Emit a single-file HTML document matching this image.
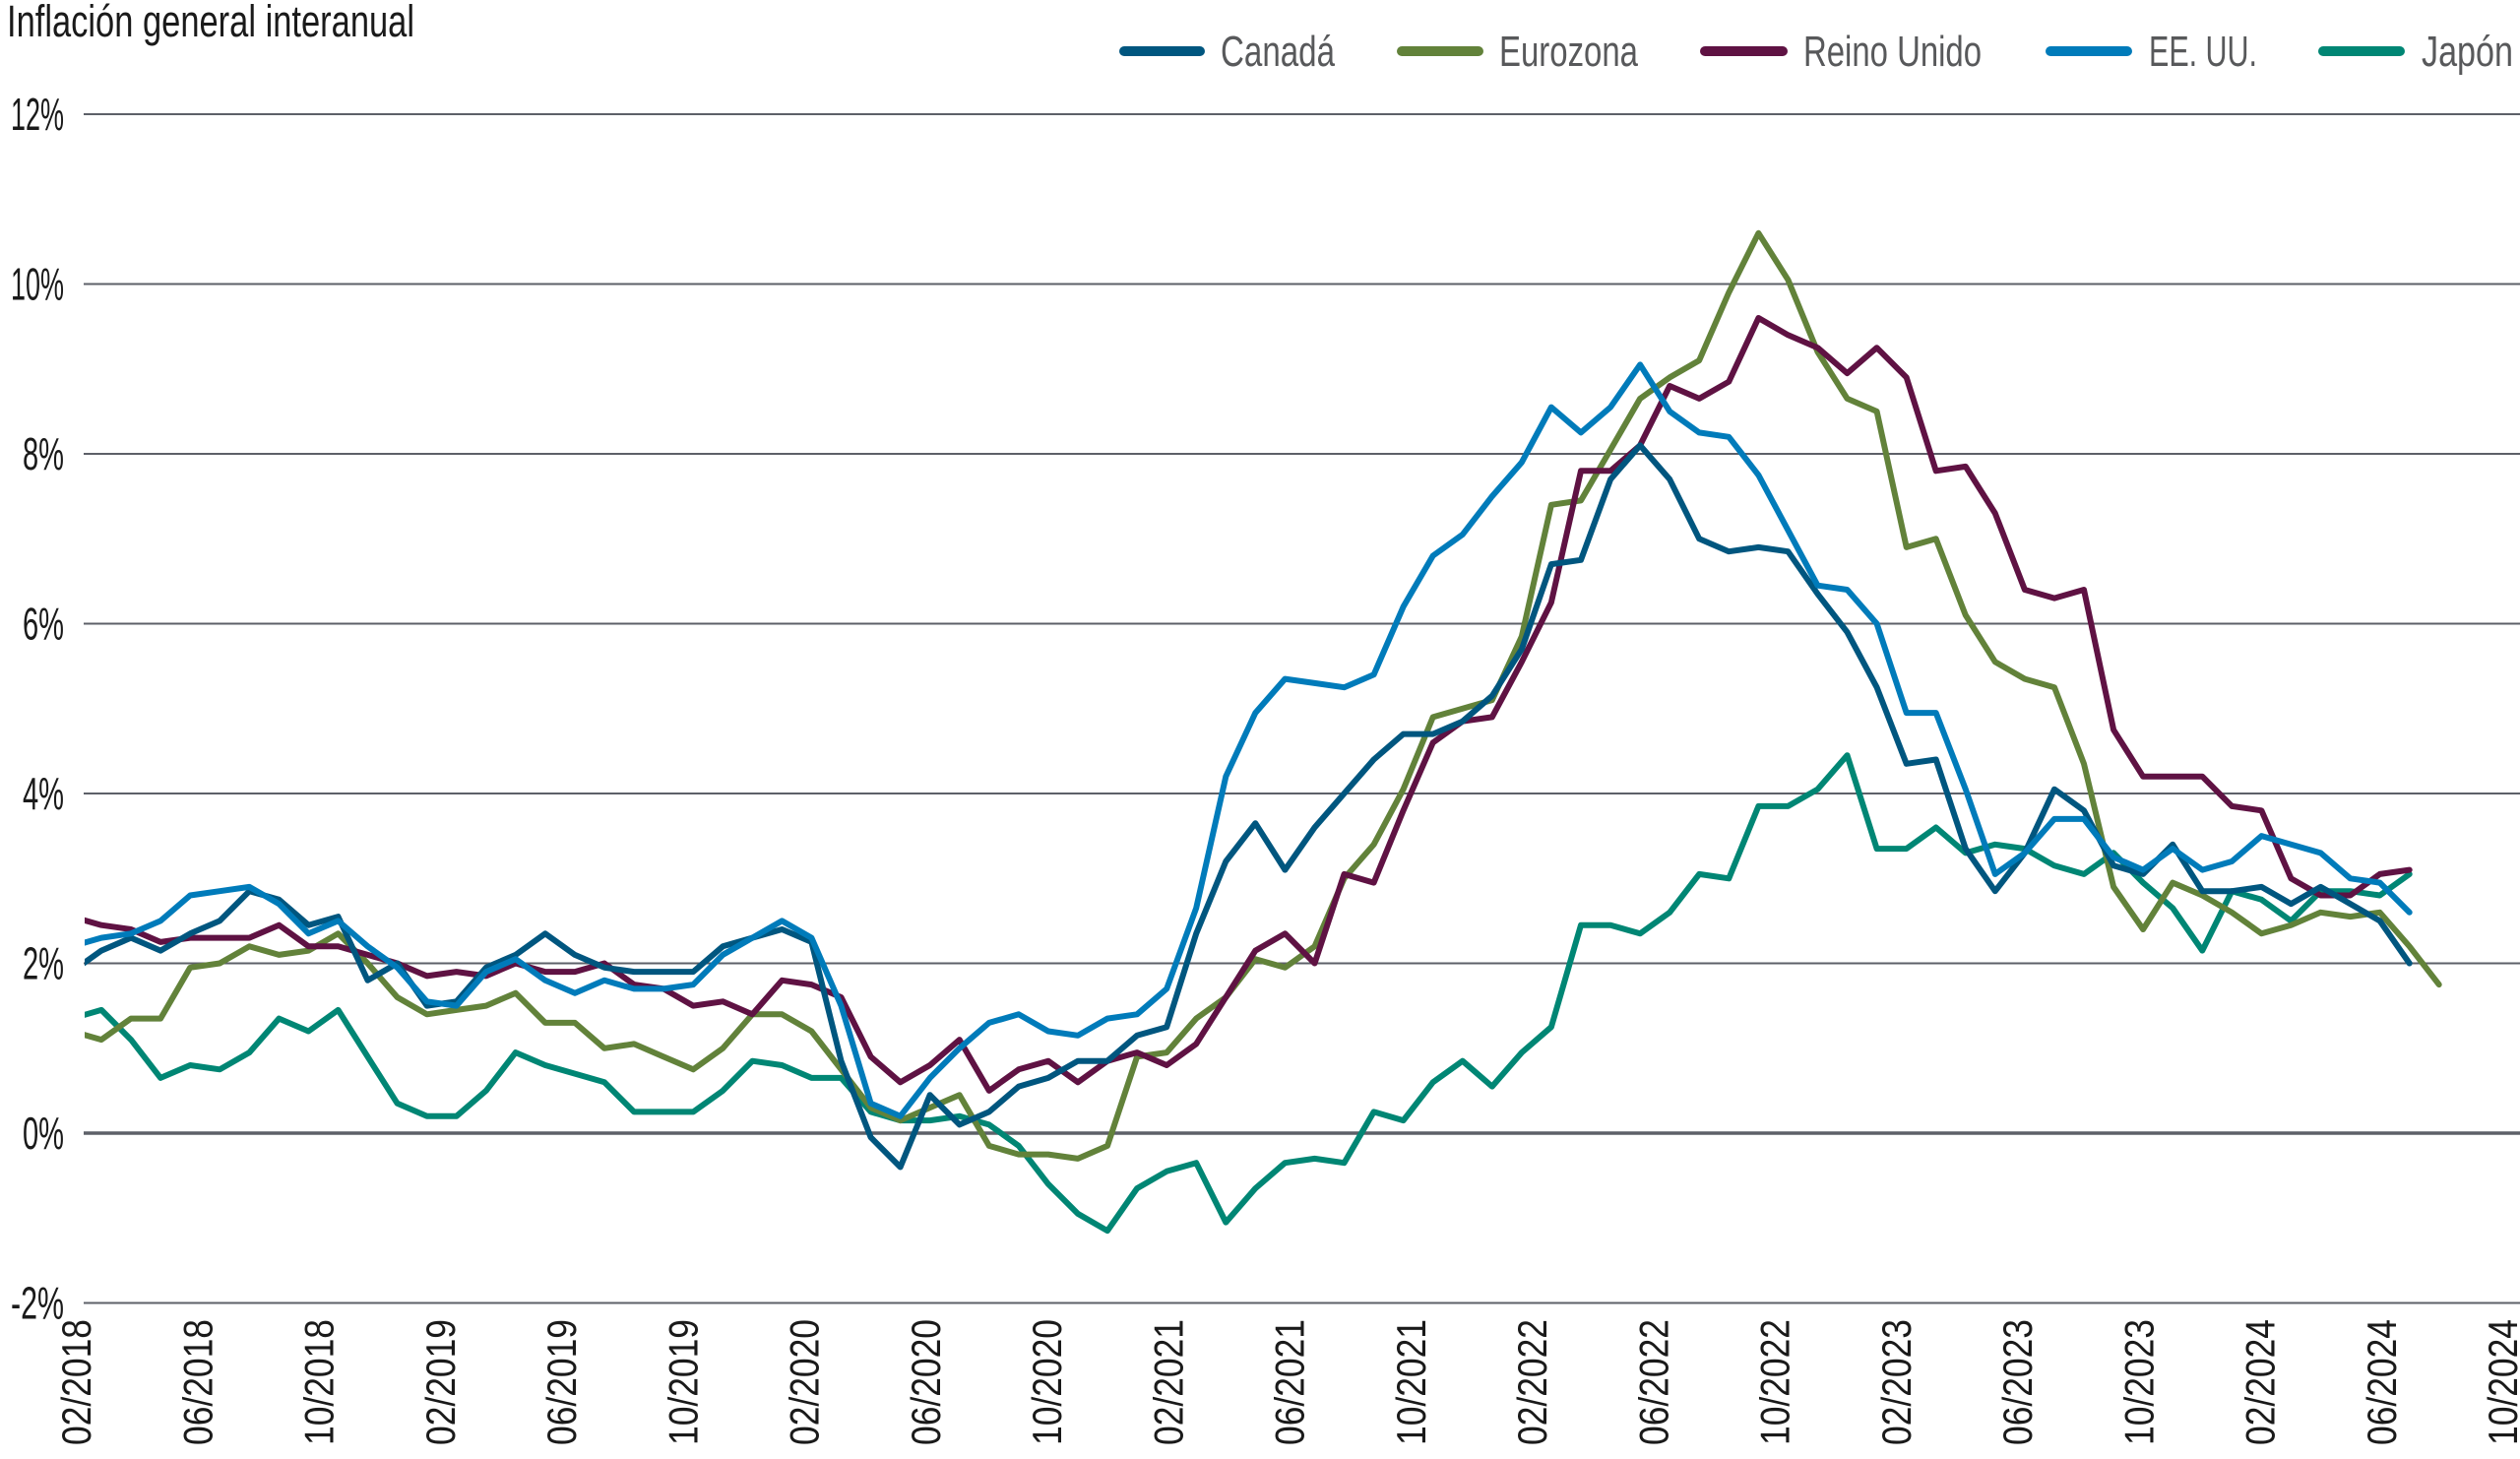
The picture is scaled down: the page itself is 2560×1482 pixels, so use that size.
<!DOCTYPE html>
<html><head><meta charset="utf-8">
<style>
html,body{margin:0;padding:0;background:#fff;}
svg{display:block;}
text{font-family:"Liberation Sans Narrow","Liberation Sans",sans-serif;}
</style></head>
<body>
<svg id="c" width="2560" height="1482" viewBox="0 0 2560 1482" xmlns="http://www.w3.org/2000/svg">
<defs><clipPath id="cp"><rect x="86" y="0" width="2474" height="1482"/></clipPath></defs>
<text x="7" y="37" font-size="45" fill="#1a1a1a" textLength="414" lengthAdjust="spacingAndGlyphs">Inflación general interanual</text>

<g stroke-linecap="round" stroke-width="10">
<line x1="1142" y1="52" x2="1219" y2="52" stroke="#00567f"/>
<line x1="1424" y1="52" x2="1502" y2="52" stroke="#62823a"/>
<line x1="1732" y1="52" x2="1811" y2="52" stroke="#5f1243"/>
<line x1="2083" y1="52" x2="2161" y2="52" stroke="#007bba"/>
<line x1="2360" y1="52" x2="2438" y2="52" stroke="#008674"/>
</g>
<g font-size="44" fill="#58595b">
<text x="1240" y="67" textLength="116" lengthAdjust="spacingAndGlyphs">Canadá</text>
<text x="1523" y="67" textLength="141" lengthAdjust="spacingAndGlyphs">Eurozona</text>
<text x="1832" y="67" textLength="181" lengthAdjust="spacingAndGlyphs">Reino Unido</text>
<text x="2183" y="67" textLength="110" lengthAdjust="spacingAndGlyphs">EE. UU.</text>
<text x="2460" y="67" textLength="93" lengthAdjust="spacingAndGlyphs">Japón</text>
</g>

<g id="grid" stroke="#5d6068" stroke-width="2"></g>
<g id="ylab" font-size="46" fill="#1a1a1a" text-anchor="end"></g>
<g id="xlab" font-size="42" fill="#1a1a1a" text-anchor="end"></g>
<g id="series" fill="none" stroke-width="6" stroke-linejoin="round" stroke-linecap="round" clip-path="url(#cp)"></g>
</svg>
<script>
var NS="http://www.w3.org/2000/svg";
function Y(v){return 1151-86.25*v;}
function X(k){return 103+30.06*k;}
var g=document.getElementById('grid'),yl=document.getElementById('ylab'),xl=document.getElementById('xlab');
for(var v=-2;v<=12;v+=2){
 var l=document.createElementNS(NS,'line');
 l.setAttribute('x1',85);l.setAttribute('x2',2560);l.setAttribute('y1',Y(v));l.setAttribute('y2',Y(v));
 if(v===0){l.setAttribute('stroke-width','3.5');}
 g.appendChild(l);
 var t=document.createElementNS(NS,'text');
 t.setAttribute('x',65);t.setAttribute('y',Y(v)+16);
 var s=v+'%';t.textContent=s;
 t.setAttribute('textLength',s.length==2?42:54);t.setAttribute('lengthAdjust','spacingAndGlyphs');
 yl.appendChild(t);
}
var mo=['02','06','10'];
for(var i=0;i<=20;i++){
 var yr=2018+Math.floor(i/3);var m=mo[i%3];
 var cx=77+123.25*i;
 var t=document.createElementNS(NS,'text');
 t.setAttribute('transform','translate('+(cx+15)+',1340) rotate(-90)');
 t.setAttribute('textLength','128');t.setAttribute('lengthAdjust','spacingAndGlyphs');
 t.textContent=m+'/'+yr;xl.appendChild(t);
}
var D={
'#008674':[1.35,1.45,1.1,0.65,0.8,0.75,0.95,1.35,1.2,1.45,0.9,0.35,0.2,0.2,0.5,0.95,0.8,0.7,0.6,0.25,0.25,0.25,0.5,0.85,0.8,0.65,0.65,0.25,0.15,0.15,0.2,0.1,-0.15,-0.6,-0.95,-1.15,-0.65,-0.45,-0.35,-1.05,-0.65,-0.35,-0.3,-0.35,0.25,0.15,0.6,0.85,0.55,0.95,1.25,2.45,2.45,2.35,2.6,3.05,3.0,3.85,3.85,4.05,4.45,3.35,3.35,3.6,3.3,3.4,3.35,3.15,3.05,3.3,2.95,2.65,2.15,2.85,2.75,2.5,2.85,2.85,2.8,3.05],
'#62823a':[1.2,1.1,1.35,1.35,1.95,2.0,2.2,2.1,2.15,2.35,2.0,1.6,1.4,1.45,1.5,1.65,1.3,1.3,1.0,1.05,0.9,0.75,1.0,1.4,1.4,1.2,0.75,0.3,0.15,0.3,0.45,-0.15,-0.25,-0.25,-0.3,-0.15,0.9,0.95,1.35,1.6,2.05,1.95,2.2,3.0,3.4,4.05,4.9,5.0,5.1,5.85,7.4,7.45,8.05,8.65,8.9,9.1,9.9,10.6,10.05,9.2,8.65,8.5,6.9,7.0,6.1,5.55,5.35,5.25,4.35,2.9,2.4,2.95,2.8,2.6,2.35,2.45,2.6,2.55,2.6,2.2,1.75],
'#5f1243':[2.55,2.45,2.4,2.25,2.3,2.3,2.3,2.45,2.2,2.2,2.1,2.0,1.85,1.9,1.85,2.0,1.9,1.9,2.0,1.75,1.7,1.5,1.55,1.4,1.8,1.75,1.6,0.9,0.6,0.8,1.1,0.5,0.75,0.85,0.6,0.85,0.95,0.8,1.05,1.6,2.15,2.35,2.0,3.05,2.95,3.8,4.6,4.85,4.9,5.55,6.25,7.8,7.8,8.1,8.8,8.65,8.85,9.6,9.4,9.25,8.95,9.25,8.9,7.8,7.85,7.3,6.4,6.3,6.4,4.75,4.2,4.2,4.2,3.85,3.8,3.0,2.8,2.8,3.05,3.1],
'#00567f':[1.9,2.15,2.3,2.15,2.35,2.5,2.85,2.75,2.45,2.55,1.8,2.0,1.5,1.55,1.95,2.1,2.35,2.1,1.95,1.9,1.9,1.9,2.2,2.3,2.4,2.25,0.85,-0.05,-0.4,0.45,0.1,0.25,0.55,0.65,0.85,0.85,1.15,1.25,2.35,3.2,3.65,3.1,3.6,4.0,4.4,4.7,4.7,4.85,5.15,5.7,6.7,6.75,7.7,8.1,7.7,7.0,6.85,6.9,6.85,6.35,5.9,5.25,4.35,4.4,3.35,2.85,3.3,4.05,3.8,3.15,3.05,3.4,2.85,2.85,2.9,2.7,2.9,2.7,2.5,2.0],
'#007bba':[2.2,2.3,2.35,2.5,2.8,2.85,2.9,2.7,2.35,2.5,2.2,1.95,1.55,1.5,1.9,2.05,1.8,1.65,1.8,1.7,1.7,1.75,2.1,2.3,2.5,2.3,1.5,0.35,0.2,0.65,1.0,1.3,1.4,1.2,1.15,1.35,1.4,1.7,2.65,4.2,4.95,5.35,5.3,5.25,5.4,6.2,6.8,7.05,7.5,7.9,8.55,8.25,8.55,9.05,8.5,8.25,8.2,7.75,7.1,6.45,6.4,6.0,4.95,4.95,4.05,3.05,3.3,3.7,3.7,3.25,3.1,3.35,3.1,3.2,3.5,3.4,3.3,3.0,2.95,2.6]
};
var order=['#008674','#62823a','#5f1243','#00567f','#007bba'];
var sg=document.getElementById('series');
order.forEach(function(c){
 var a=D[c],p=[];
 for(var i=0;i<a.length;i++){p.push(X(i-1).toFixed(1)+','+Y(a[i]).toFixed(1));}
 var pl=document.createElementNS(NS,'polyline');
 pl.setAttribute('points',p.join(' '));pl.setAttribute('stroke',c);
 sg.appendChild(pl);
});
</script>
</body></html>
